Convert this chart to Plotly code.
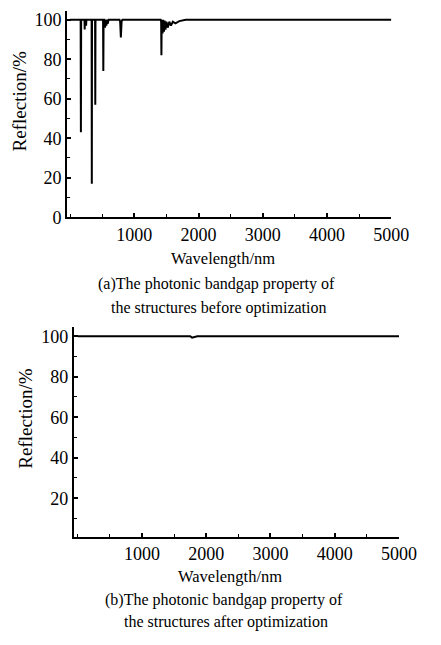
import plotly.graph_objects as go

# ---- data ----
# (a) before optimization: wavelength (nm) and reflection (%)
wl_before = [0, 150, 165, 169, 173, 215, 225, 228, 231, 245, 250, 254, 330, 336, 339, 342,
             380, 390, 393, 396, 505, 514, 518, 522, 535, 545, 555, 565, 575, 585, 600,
             770, 780, 791, 802, 815, 1000, 1410, 1418, 1422, 1426, 1432, 1440, 1450,
             1462, 1472, 1485, 1500, 1520, 1545, 1570, 1600, 1640, 1700, 1800, 2500, 5000]
refl_before = [100, 100, 100, 43, 100, 100, 100, 95, 100, 100, 97, 100, 100, 100, 17, 100,
               100, 100, 57, 100, 100, 100, 74, 100, 100, 96, 100, 97, 100, 98, 100,
               100, 99, 91, 99, 100, 100, 100, 99, 82, 99, 100, 93, 100,
               94, 99.5, 95, 99, 96, 99, 97, 99, 98.2, 99.3, 100, 100, 100]

# (b) after optimization
wl_after = [0, 1000, 1750, 1780, 1820, 1860, 3000, 5000]
refl_after = [100, 100, 100, 99.3, 99.5, 100, 100, 100]

x_ticks = [1000, 2000, 3000, 4000, 5000]
y_ticks_a = [0, 20, 40, 60, 80, 100]
y_ticks_b = [20, 40, 60, 80, 100]

x_title = "Wavelength/nm"
y_title = "Reflection/%"
caption_a = ["(a)The photonic bandgap property of", "the structures before optimization"]
caption_b = ["(b)The photonic bandgap property of", "the structures after optimization"]

W, H = 441, 645
FONT = "Liberation Serif"
FS_TICK = 18
FS_YT = 19
FS_XT = 16.5
FS_CAP = 16


def px(x):
    return x / W


def py(y):
    return 1 - y / H


fig = go.Figure()
fig.add_trace(go.Scatter(x=wl_before, y=refl_before, mode="lines",
                         line=dict(color="black", width=2), xaxis="x", yaxis="y",
                         showlegend=False, hoverinfo="skip"))
fig.add_trace(go.Scatter(x=wl_after, y=refl_after, mode="lines",
                         line=dict(color="black", width=2), xaxis="x2", yaxis="y2",
                         showlegend=False, hoverinfo="skip"))

axis_common = dict(showgrid=False, zeroline=False, showline=True, linecolor="black",
                   linewidth=2, ticks="inside", ticklen=4, tickwidth=1.5, tickcolor="black",
                   tickfont=dict(family=FONT, size=FS_TICK, color="black"), mirror=False)

minor_x = dict(dtick=500, tick0=0, ticks="inside", ticklen=3, tickcolor="black", tickwidth=1)
minor_y = dict(dtick=10, tick0=0, ticks="inside", ticklen=3, tickcolor="black", tickwidth=1)

fig.update_layout(
    width=W, height=H,
    margin=dict(l=0, r=0, t=0, b=0),
    paper_bgcolor="white", plot_bgcolor="white",
    font=dict(family=FONT, size=FS_TICK, color="black"),
    xaxis=dict(domain=[px(70), px(408)], anchor="y", range=[-45, 5000],
               tickvals=x_ticks, minor=minor_x, **axis_common),
    yaxis=dict(domain=[py(220), py(10)], anchor="x", range=[0, 104.5],
               tickvals=y_ticks_a, minor=minor_y, **axis_common),
    xaxis2=dict(domain=[px(77), px(416)], anchor="y2", range=[-60, 5000],
                tickvals=x_ticks, minor=minor_x, **axis_common),
    yaxis2=dict(domain=[py(545), py(332)], anchor="x2", range=[1, 104.4],
                tickvals=y_ticks_b, minor=minor_y, **axis_common),
)

ann = []
def text(x, y, t, size, angle=0):
    ann.append(dict(x=px(x), y=py(y), xref="paper", yref="paper", text=t, showarrow=False,
                    textangle=angle, xanchor="center", yanchor="middle",
                    font=dict(family=FONT, size=size, color="black")))

text(20, 102, y_title, FS_YT, -90)
text(232, 262, x_title, FS_XT)
text(226, 288, caption_a[0], FS_CAP)
text(228, 312, caption_a[1], FS_CAP)
text(27, 425, y_title, FS_YT, -90)
text(240, 585, x_title, FS_XT)
text(234, 609, caption_b[0], FS_CAP)
text(236, 632, caption_b[1], FS_CAP)
fig.update_layout(annotations=ann)

fig.write_html("out.html")
